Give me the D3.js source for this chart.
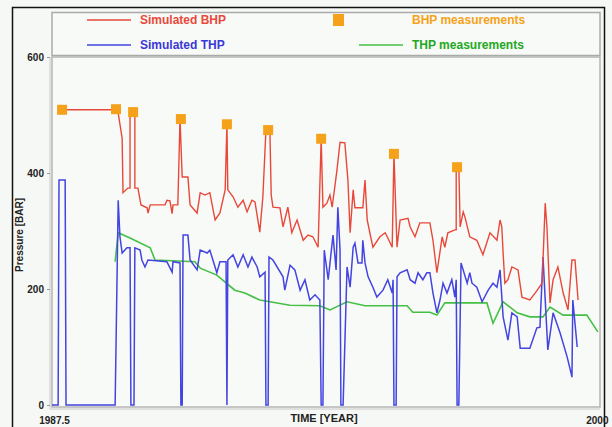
<!DOCTYPE html>
<html><head><meta charset="utf-8">
<script src="https://cdn.jsdelivr.net/npm/d3@7"></script>
<style>
html,body{margin:0;padding:0;background:#f6f8f5;}
svg{display:block;font-family:"Liberation Sans",Arial,sans-serif;}
</style></head>
<body><svg id="c" width="612" height="427"></svg>
<script>
// ---- data ----
const bhpMeasYears = [1987.73, 1988.96, 1989.35, 1990.44, 1991.49, 1992.43, 1993.64, 1995.30, 1996.74];
const bhpMeasVals  = [509, 510, 505, 493, 484, 474, 459, 433, 410];

const bhpSimYears = [1987.73,1988.96,1989.01,1989.10,1989.12,1989.23,1989.28,1989.28,1989.39,1989.39,1989.46,1989.53,1989.67,1989.69,1989.74,1990.08,1990.12,1990.19,1990.24,1990.26,1990.37,1990.42,1990.47,1990.60,1990.65,1990.81,1990.88,1990.99,1991.10,1991.22,1991.33,1991.45,1991.49,1991.51,1991.63,1991.74,1991.86,1991.95,1992.06,1992.13,1992.24,1992.31,1992.38,1992.47,1992.50,1992.54,1992.70,1992.77,1992.88,1992.97,1993.09,1993.23,1993.34,1993.45,1993.57,1993.64,1993.68,1993.77,1993.84,1993.89,1994.00,1994.07,1994.18,1994.25,1994.30,1994.37,1994.41,1994.59,1994.64,1994.69,1994.75,1994.82,1994.98,1995.10,1995.16,1995.26,1995.30,1995.37,1995.44,1995.62,1995.67,1995.78,1995.89,1996.12,1996.19,1996.28,1996.40,1996.46,1996.53,1996.69,1996.72,1996.72,1996.78,1996.81,1996.88,1996.92,1997.03,1997.19,1997.33,1997.49,1997.65,1997.72,1997.76,1997.79,1997.83,1997.90,1997.99,1998.13,1998.22,1998.40,1998.52,1998.68,1998.75,1998.79,1998.86,1998.93,1999.04,1999.16,1999.27,1999.36,1999.43,1999.50];
const bhpSimVals  = [509,509,503,460,366,374,374,505,505,374,374,345,340,331,345,345,353,352,330,345,345,493,393,393,345,331,366,362,366,319,331,371,484,371,359,341,353,333,353,350,298,359,474,474,362,341,340,307,341,297,319,284,293,290,272,459,341,348,362,341,405,453,452,388,297,371,340,340,388,319,297,272,290,297,288,272,433,272,319,322,307,290,314,314,284,228,290,272,297,302,302,410,410,307,333,324,290,284,259,297,284,319,307,262,210,216,238,233,186,181,193,210,348,307,176,216,238,193,164,250,250,181];

const thpSimYears = [1987.50,1987.64,1987.66,1987.80,1987.82,1988.94,1989.01,1989.05,1989.10,1989.21,1989.28,1989.30,1989.37,1989.39,1989.51,1989.55,1989.62,1989.69,1990.12,1990.24,1990.26,1990.42,1990.44,1990.47,1990.49,1990.60,1990.65,1990.81,1990.88,1991.04,1991.10,1991.17,1991.26,1991.33,1991.47,1991.49,1991.51,1991.63,1991.74,1991.86,1991.97,1992.06,1992.18,1992.24,1992.36,1992.38,1992.43,1992.45,1992.54,1992.77,1992.81,1992.93,1993.04,1993.16,1993.27,1993.38,1993.50,1993.61,1993.64,1993.68,1993.71,1993.80,1993.91,1993.98,1994.02,1994.07,1994.09,1994.14,1994.23,1994.30,1994.37,1994.41,1994.48,1994.57,1994.59,1994.64,1994.71,1994.82,1994.91,1995.05,1995.16,1995.26,1995.28,1995.30,1995.35,1995.37,1995.44,1995.60,1995.67,1995.78,1995.85,1995.96,1996.05,1996.12,1996.19,1996.28,1996.35,1996.42,1996.51,1996.62,1996.69,1996.72,1996.74,1996.78,1996.83,1996.97,1997.03,1997.08,1997.19,1997.31,1997.45,1997.56,1997.65,1997.72,1997.79,1997.90,1997.99,1998.11,1998.18,1998.40,1998.56,1998.63,1998.70,1998.81,1998.93,1999.09,1999.25,1999.34,1999.36,1999.38,1999.48];
const thpSimVals  = [0,0,388,388,0,0,353,290,262,271,271,0,0,271,267,250,238,250,247,229,247,245,0,0,293,293,250,233,267,262,267,250,228,247,247,0,250,259,238,259,238,255,238,221,229,0,0,255,250,221,198,241,233,198,216,181,190,181,0,0,267,216,293,233,341,267,0,0,238,203,272,279,245,245,284,245,221,203,186,198,216,193,216,0,0,221,228,233,216,210,228,216,228,228,193,159,181,210,193,216,186,216,0,0,245,210,228,210,203,178,198,210,203,233,152,112,159,152,98,98,133,134,255,95,159,124,83,55,48,181,100];

const thpMeasYears = [1988.94,1989.01,1989.28,1989.74,1989.85,1990.76,1990.88,1991.26,1991.67,1991.90,1992.24,1992.93,1993.61,1993.84,1994.23,1994.64,1995.60,1995.73,1996.12,1996.28,1996.46,1997.42,1997.56,1997.79,1998.11,1998.40,1998.70,1998.86,1999.16,1999.70,1999.95];
const thpMeasVals  = [247,297,288,271,250,247,236,224,198,193,181,172,171,164,178,171,171,160,160,155,176,176,141,178,159,152,152,169,155,155,126];

const yTicks = [0, 200, 400, 600];
const xTickLabels = [1987.5, 2000];

const legendItems = [
  {label: "Simulated BHP", color: "#e8483a", text: "#e8483a", kind: "line"},
  {label: "BHP measurements", color: "#f5a21a", text: "#f5a21a", kind: "square"},
  {label: "Simulated THP", color: "#4444e0", text: "#3838d8", kind: "line"},
  {label: "THP measurements", color: "#44c044", text: "#22a822", kind: "line"}
];

// ---- drawing ----
const svg = d3.select("#c");
const x = d3.scaleLinear().domain([1987.5, 2000]).range([52, 600]);
const y = d3.scaleLinear().domain([0, 600]).range([405, 57]);

// outer frame
svg.append("path").attr("d", "M12.5,427 L12.5,7.5 L604.5,7.5 L604.5,427")
  .attr("fill", "none").attr("stroke", "#111").attr("stroke-width", 1.5);

// legend box
svg.append("rect").attr("x", 52).attr("y", 12.5).attr("width", 548).attr("height", 43)
  .attr("fill", "#f8faf7").attr("stroke", "#aaa").attr("stroke-width", 1.5);

// plot frame
svg.append("rect").attr("x", 52).attr("y", 57).attr("width", 548).attr("height", 350)
  .attr("fill", "#f8faf7").attr("stroke", "#b4b4b4").attr("stroke-width", 1.5);
svg.append("line").attr("x1", 50).attr("x2", 50).attr("y1", 57).attr("y2", 409)
  .attr("stroke", "#c8c8c8").attr("stroke-width", 1);
svg.append("line").attr("x1", 50).attr("x2", 600).attr("y1", 409).attr("y2", 409)
  .attr("stroke", "#c8c8c8").attr("stroke-width", 1);

// y axis
const yAxis = d3.axisLeft(y).tickValues(yTicks).tickSize(3).tickPadding(3);
const gy = svg.append("g").attr("transform", "translate(50,0)").call(yAxis);
gy.select(".domain").remove();
gy.selectAll("line").attr("stroke", "#999");
gy.selectAll("text").attr("font-size", 10).attr("font-weight", "bold").attr("fill", "#222");

// x tick labels
const xAxis = d3.axisBottom(x).tickValues(xTickLabels).tickSize(0).tickPadding(8)
  .tickFormat(d => d === 2000 ? "2000" : String(d));
const gx = svg.append("g").attr("transform", "translate(0,409)").call(xAxis);
gx.select(".domain").remove();
gx.selectAll("text").attr("font-size", 10).attr("font-weight", "bold").attr("fill", "#222")
  .attr("text-anchor", (d, i) => i === 0 ? "middle" : "end")
  .attr("dx", (d, i) => i === 0 ? 2 : 8);

// axis titles
svg.append("text").attr("x", 324).attr("y", 422).attr("text-anchor", "middle")
  .attr("font-size", 11).attr("font-weight", "bold").attr("fill", "#222").text("TIME [YEAR]");
svg.append("text").attr("transform", "translate(23,235) rotate(-90)").attr("text-anchor", "middle")
  .attr("font-size", 10).attr("font-weight", "bold").attr("fill", "#222").text("Pressure [BAR]");

// lines
const mk = (xs, vs) => xs.map((d, i) => [d, vs[i]]);
const line = d3.line().x(d => x(d[0])).y(d => y(d[1]));
const plot = svg.append("g");
plot.append("path").datum(mk(thpMeasYears, thpMeasVals)).attr("d", line)
  .attr("fill", "none").attr("stroke", legendItems[3].color).attr("stroke-width", 1.6);
plot.append("path").datum(mk(thpSimYears, thpSimVals)).attr("d", line)
  .attr("fill", "none").attr("stroke", legendItems[2].color).attr("stroke-width", 1.5);
plot.append("path").datum(mk(bhpSimYears, bhpSimVals)).attr("d", line)
  .attr("fill", "none").attr("stroke", legendItems[0].color).attr("stroke-width", 1.4);
plot.selectAll("rect.m").data(mk(bhpMeasYears, bhpMeasVals)).enter().append("rect")
  .attr("class", "m")
  .attr("x", d => x(d[0]) - 5).attr("y", d => y(d[1]) - 5)
  .attr("width", 10).attr("height", 10).attr("fill", legendItems[1].color);

// legend
const legPos = [
  {sx: 87, tx: 140, y: 20},
  {sx: 333, tx: 412, y: 20},
  {sx: 87, tx: 140, y: 45},
  {sx: 359, tx: 412, y: 45}
];
const lg = svg.append("g");
legendItems.forEach((it, i) => {
  const p = legPos[i];
  if (it.kind === "line") {
    lg.append("line").attr("x1", p.sx).attr("x2", p.sx + 44).attr("y1", p.y).attr("y2", p.y)
      .attr("stroke", it.color).attr("stroke-width", 1.6);
  } else {
    lg.append("rect").attr("x", p.sx).attr("y", p.y - 6).attr("width", 11).attr("height", 12)
      .attr("fill", it.color);
  }
  lg.append("text").attr("x", p.tx).attr("y", p.y + 4).attr("font-size", 12).attr("font-weight", "bold")
    .attr("fill", it.text).text(it.label);
});
</script></body></html>
